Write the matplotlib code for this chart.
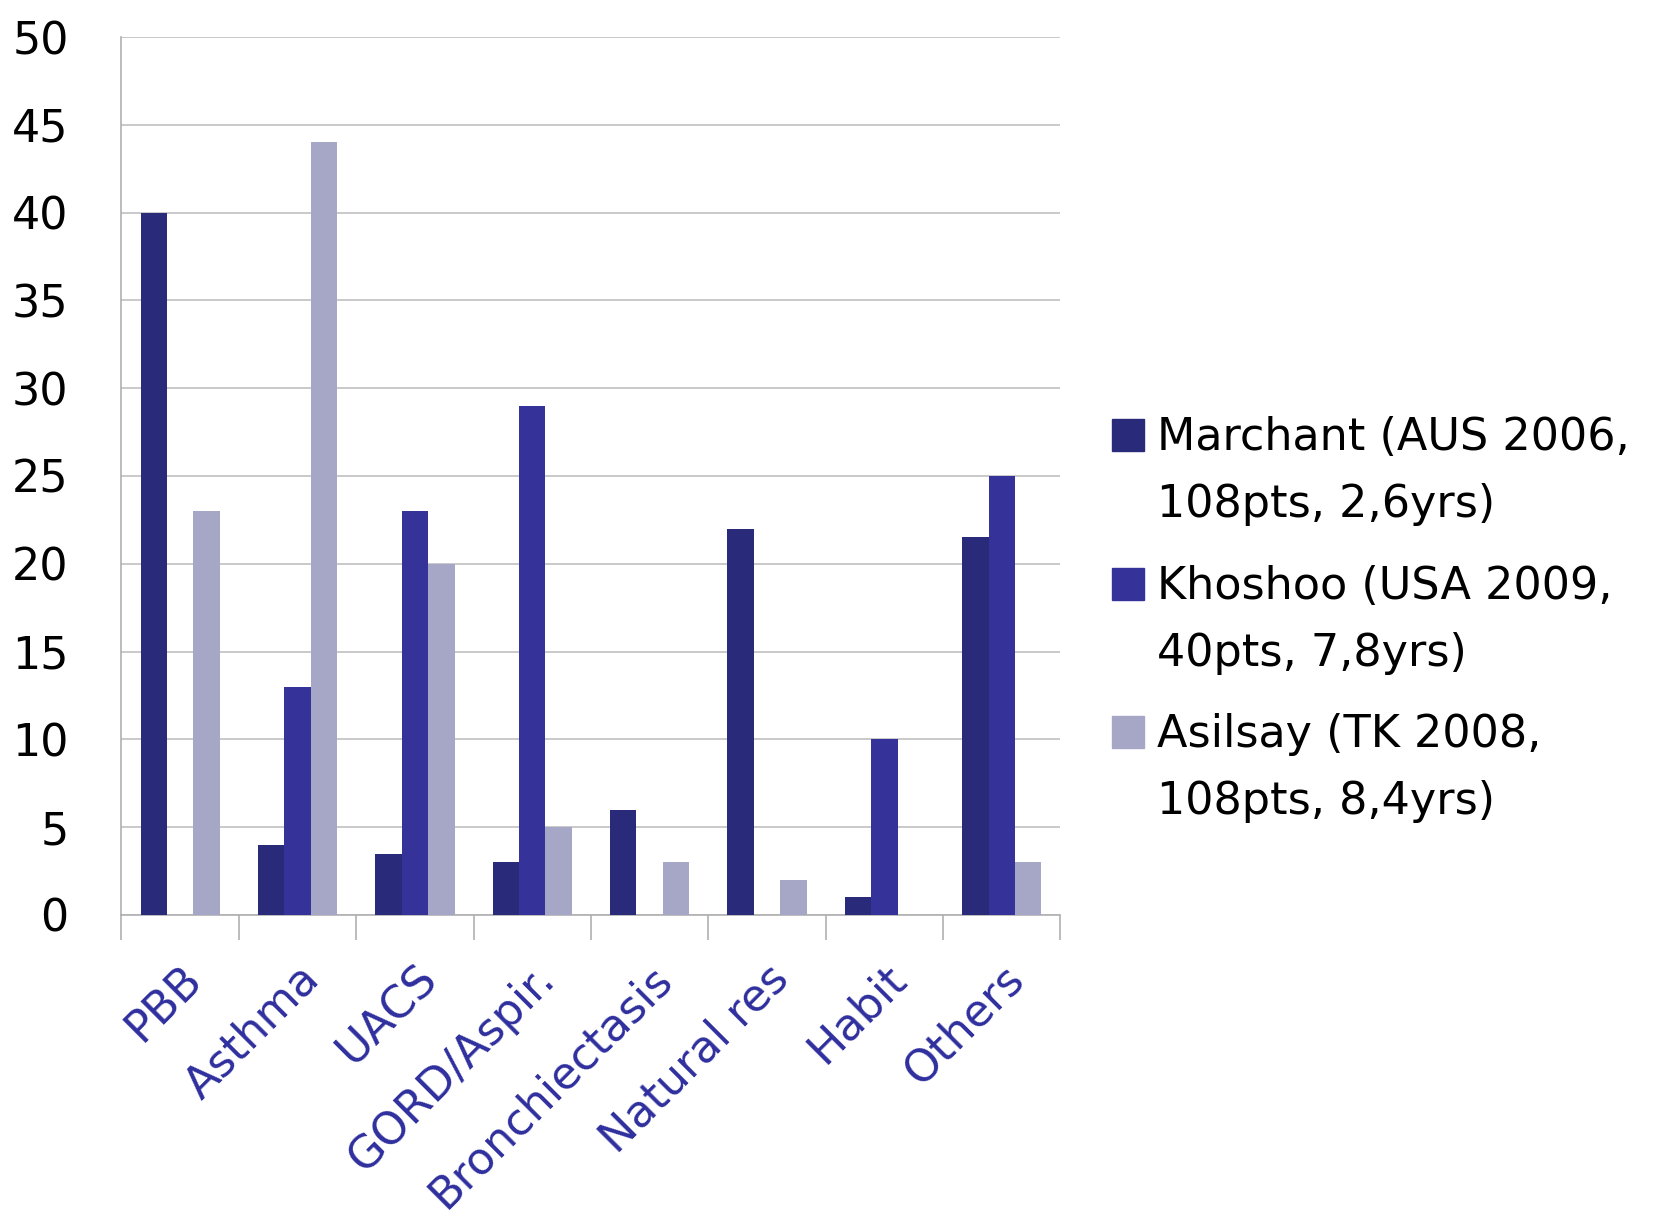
import numpy as np
import matplotlib
import matplotlib.pyplot as plt
from matplotlib.patches import Rectangle

matplotlib.rcParams['font.family'] = 'DejaVu Sans'

categories = ['PBB', 'Asthma', 'UACS', 'GORD/Aspir.', 'Bronchiectasis',
              'Natural res', 'Habit', 'Others']
marchant = [40, 4, 3.5, 3, 6, 22, 1, 21.5]
khoshoo = [0, 13, 23, 29, 0, 0, 10, 25]
asilsay = [23, 44, 20, 5, 3, 2, 0, 3]

labels = ['Marchant (AUS 2006,\n108pts, 2,6yrs)',
          'Khoshoo (USA 2009,\n40pts, 7,8yrs)',
          'Asilsay (TK 2008,\n108pts, 8,4yrs)']
colors = ['#2a2a7a', '#353399', '#a6a6c6']

fig = plt.figure(figsize=(16.57, 12.18), dpi=100)
ax = fig.add_axes([0.0733, 0.2488, 0.5667, 0.7208])

x = np.arange(len(categories))
w = 0.225
for i, (vals, c) in enumerate(zip([marchant, khoshoo, asilsay], colors)):
    ax.bar(x + (i - 1) * w, vals, w, color=c, zorder=3)

ax.set_xlim(-0.5, len(categories) - 0.5)
ax.set_ylim(0, 50)
ax.set_yticks(range(0, 51, 5))
ax.yaxis.grid(True, color='#c0c0c0', linewidth=1.2, zorder=0)
ax.tick_params(axis='y', length=0, labelsize=32, pad=38)

ax.set_xticks(np.arange(len(categories) + 1) - 0.5)
ax.set_xticklabels([])
ax.tick_params(axis='x', length=18, width=1.2, color='#b0b0b0')
ax.set_xticks(x, minor=True)
ax.set_xticklabels(categories, minor=True, rotation=45, ha='right',
                   rotation_mode='anchor', fontsize=32, color='#2e2e9e')
ax.tick_params(axis='x', which='minor', length=0, pad=30)

for s in ['top', 'right']:
    ax.spines[s].set_visible(False)
for s in ['left', 'bottom']:
    ax.spines[s].set_color('#b0b0b0')
    ax.spines[s].set_linewidth(1.2)

# legend drawn by hand so that the square sits on the first line
W, H = 1657, 1218
first_rows = [435, 584, 732]
for lab, c, yc in zip(labels, colors, first_rows):
    fig.patches.append(Rectangle((1112 / W, (H - yc - 16) / H), 32 / W, 32 / H,
                                 transform=fig.transFigure, color=c))
    fig.text(1157 / W, (H - yc + 19) / H, lab, fontsize=32, va='top',
             ha='left', linespacing=1.7,
             transform=fig.transFigure)

fig.savefig('out.png', dpi=100)
